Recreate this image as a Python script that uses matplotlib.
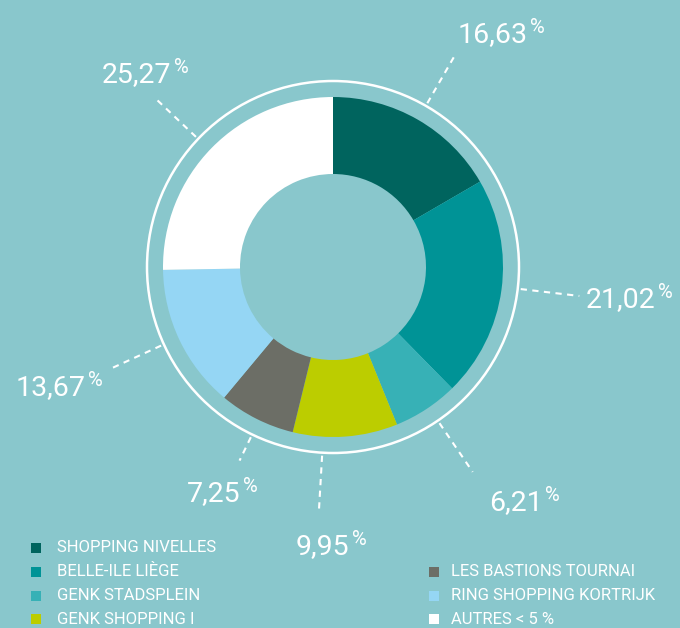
"""Donut chart - share per shopping centre."""
import matplotlib
matplotlib.use("Agg")
import matplotlib.pyplot as plt
import numpy as np
from matplotlib.patches import Circle

W, H = 680, 628
BG = "#89c7cc"

names = ["SHOPPING NIVELLES", "BELLE-ILE LIÈGE", "GENK STADSPLEIN",
         "GENK SHOPPING I", "LES BASTIONS TOURNAI", "RING SHOPPING KORTRIJK",
         "AUTRES < 5 %"]
shares = [16.63, 21.02, 6.21, 9.95, 7.25, 13.67, 25.27]
labels = ["16,63", "21,02", "6,21", "9,95", "7,25", "13,67", "25,27"]
colors = ["#00645e", "#009396", "#37b1b6", "#bccd00", "#6c6e66", "#95d6f4", "#ffffff"]

plt.rcParams["font.family"] = ["Roboto", "DejaVu Sans"]

fig = plt.figure(figsize=(W / 100, H / 100), dpi=100, facecolor=BG)
ax = fig.add_axes([0, 0, 1, 1])
ax.set_facecolor(BG)

cx, cy = 333, H - 267
ax.pie(shares, colors=colors, startangle=90, counterclock=False,
       radius=170, center=(cx, cy), frame=True,
       wedgeprops=dict(width=77, linewidth=0))
ax.add_patch(Circle((cx, cy), 186, fill=False, ec="white", lw=1.8))

ax.set_xlim(0, W)
ax.set_ylim(0, H)
ax.set_aspect("equal")
ax.axis("off")

# leader lines, radial from the ring at each slice's mid-angle
mids = (np.cumsum(shares) - np.array(shares) / 2) / sum(shares) * 360
nudge = [0, -1, -1, 7.5, -1, 1, -1]
r_end = [243, 248, 248, 243, 215, 245, 246]
for m, dn, re in zip(mids, nudge, r_end):
    a = np.radians(m + dn)
    rr = np.array([189, re])
    ax.plot(cx + rr * np.sin(a), cy + rr * np.cos(a), color="white",
            lw=1.5, linestyle=(0, (3, 2.6)), solid_capstyle="butt")

# value labels (left, baseline in pixels from top)
label_pos = [(458, 42), (586, 307), (489, 510), (296, 554),
             (187, 501), (16, 395), (102, 82)]
for txt, (px, py) in zip(labels, label_pos):
    t = ax.text(px, H - py, txt, fontsize=20.5, color="white",
                ha="left", va="baseline")
    ax.annotate("%", xy=(1, 1), xycoords=t, xytext=(1.5, 2),
                textcoords="offset points", fontsize=14.5,
                color="white", ha="left", va="top")

# legend
rows = [548, 572, 596, 619]
slots = [(0, 0), (0, 1), (0, 2), (0, 3), (1, 1), (1, 2), (1, 3)]
cols = [(36, 57), (434, 451)]
for name, col, (c, r) in zip(names, colors, slots):
    sx, tx = cols[c]
    ax.scatter([sx], [H - rows[r]], marker="s", s=55, color=col, lw=0)
    ax.text(tx, H - rows[r], name, fontsize=12, color="white",
            ha="left", va="center")

fig.savefig("out.png", dpi=100, facecolor=BG)
